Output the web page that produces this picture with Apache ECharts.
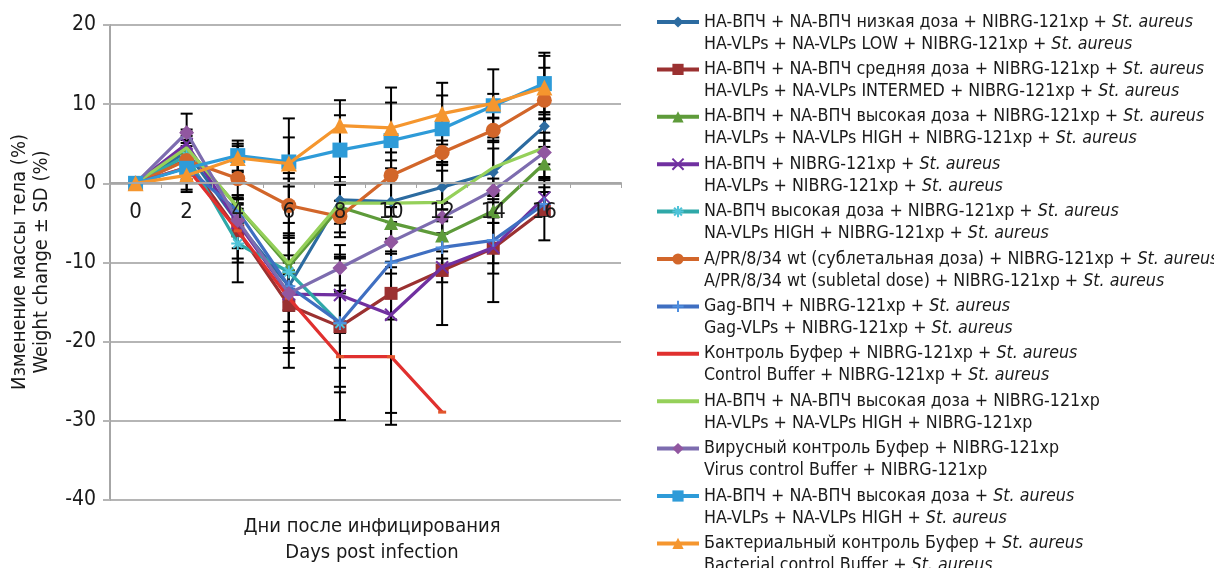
<!DOCTYPE html>
<html><head><meta charset="utf-8">
<script src="https://cdn.jsdelivr.net/npm/echarts@6/dist/echarts.min.js"></script>
<style>html,body{margin:0;padding:0;background:#fff}#c{width:1214px;height:568px}</style>
</head><body><div id="c"></div>
<script>
const FONT = "'DejaVu Sans Condensed','Liberation Sans Narrow',sans-serif";
const days = ['0','2','4','6','8','10','12','14','16',''];

const lowDose      = [0, 4.0, -5.0, -13.0, -2.1, -2.3, -0.5, 1.4, 7.2];
const lowDoseSD    = [0, 1.5, 1.5, 3.0, 2.0, 5.2, 2.8, 3.0, 1.8];
const medDose      = [0, 3.0, -6.0, -15.4, -18.1, -13.9, -11.0, -8.2, -3.3];
const medDoseSD    = [0, 3.8, 3.5, 7.9, 5.2, 3.3, 1.5, 3.2, 3.9];
const highDose     = [0, 4.5, -3.0, -10.5, -3.0, -5.0, -6.6, -3.5, 2.5];
const highDoseSD   = [0, 1.5, 1.5, 5.5, 3.8, 2.0, 2.0, 1.5, 2.1];
const haOnly       = [0, 5.0, -5.0, -14.0, -14.1, -16.6, -10.6, -8.1, -1.8];
const haOnlySD     = [0, 1.5, 3.2, 7.4, 4.8, 12.4, 7.3, 6.9, 1.3];
const naHigh       = [0, 3.5, -7.6, -11.2, -17.7];
const naHighSD     = [0, 1.2, 4.9, 4.9, 8.7];
const aprWt        = [0, 2.9, 0.6, -2.8, -4.2, 1.0, 3.9, 6.7, 10.5];
const aprWtSD      = [0, 1.0, 4.1, 4.1, 2.0, 4.0, 1.5, 1.5, 4.1];
const gag          = [0, 2.0, -3.5, -13.0, -17.6, -10.0, -8.1, -7.2, -2.6];
const gagSD        = [0, 3.1, 1.5, 2.0, 8.1, 1.4, 3.3, 2.9, 1.5];
const ctrlBuf      = [0, 2.0, -6.0, -14.5, -21.9, -21.9, -28.9];
const ctrlBufSD    = [0, 1.0, 4.0, 3.0, 8.0, 8.6, 0];
const hiNoBact     = [0, 4.5, -3.0, -10.1, -2.5, -2.5, -2.4, 2.0, 4.5];
const hiNoBactSD   = [0, 1.0, 1.5, 10.7, 2.6, 6.4, 4.0, 3.4, 3.7];
const virusCtrl    = [0, 6.4, -4.7, -13.9, -10.7, -7.4, -4.3, -0.9, 3.9];
const virusCtrlSD  = [0, 2.4, 1.5, 4.8, 2.9, 2.5, 2.0, 1.5, 1.5];
const hiBactOnly   = [0, 1.9, 3.5, 2.7, 4.2, 5.4, 6.9, 9.8, 12.6];
const hiBactOnlySD = [0, 0.8, 1.9, 3.1, 4.4, 4.8, 4.2, 1.5, 3.9];
const bactCtrl     = [0, 1.0, 3.2, 2.5, 7.3, 7.0, 8.8, 10.1, 12.1];
const bactCtrlSD   = [0, 0.5, 1.8, 5.7, 3.2, 5.1, 3.9, 4.3, 4.0];

const namesRu = [
  'HA-ВПЧ + NA-ВПЧ низкая доза + NIBRG-121xp + St. aureus',
  'HA-ВПЧ + NA-ВПЧ средняя доза + NIBRG-121xp + St. aureus',
  'HA-ВПЧ + NA-ВПЧ высокая доза + NIBRG-121xp + St. aureus',
  'HA-ВПЧ + NIBRG-121xp + St. aureus',
  'NA-ВПЧ высокая доза + NIBRG-121xp + St. aureus',
  'A/PR/8/34 wt (сублетальная доза) + NIBRG-121xp + St. aureus',
  'Gag-ВПЧ + NIBRG-121xp + St. aureus',
  'Контроль Буфер + NIBRG-121xp + St. aureus',
  'HA-ВПЧ + NA-ВПЧ высокая доза + NIBRG-121xp',
  'Вирусный контроль Буфер + NIBRG-121xp',
  'HA-ВПЧ + NA-ВПЧ высокая доза + St. aureus',
  'Бактериальный контроль Буфер + St. aureus'
];
const namesEn = [
  'HA-VLPs + NA-VLPs LOW + NIBRG-121xp + St. aureus',
  'HA-VLPs + NA-VLPs INTERMED + NIBRG-121xp + St. aureus',
  'HA-VLPs + NA-VLPs HIGH + NIBRG-121xp + St. aureus',
  'HA-VLPs + NIBRG-121xp + St. aureus',
  'NA-VLPs HIGH + NIBRG-121xp + St. aureus',
  'A/PR/8/34 wt (subletal dose) + NIBRG-121xp + St. aureus',
  'Gag-VLPs + NIBRG-121xp + St. aureus',
  'Control Buffer + NIBRG-121xp + St. aureus',
  'HA-VLPs + NA-VLPs HIGH + NIBRG-121xp',
  'Virus control Buffer + NIBRG-121xp',
  'HA-VLPs + NA-VLPs HIGH + St. aureus',
  'Bacterial control Buffer + St. aureus'
];

const X_PATH = 'path://M0,0L10,10M10,0L0,10';
const AST_PATH = 'path://M5,0L5,10M0,5L10,5M1.5,1.5L8.5,8.5M8.5,1.5L1.5,8.5';
const PLUS_PATH = 'path://M5,0L5,10M0,5L10,5';

const defs = [
  {v: lowDose, sd: lowDoseSD, color: '#2C6BA0', symbol: 'diamond', size: 11},
  {v: medDose, sd: medDoseSD, color: '#9B3131', symbol: 'rect', size: 13},
  {v: highDose, sd: highDoseSD, color: '#5E9B3A', symbol: 'triangle', size: 14},
  {v: haOnly, sd: haOnlySD, color: '#7030A0', symbol: X_PATH, size: 12, stroke: true},
  {v: naHigh, sd: naHighSD, color: '#2FA8A8', symbol: AST_PATH, size: 13, stroke: true, markColor: '#4FC3D8'},
  {v: aprWt, sd: aprWtSD, color: '#D2662A', symbol: 'circle', size: 15},
  {v: gag, sd: gagSD, color: '#3F6FC1', symbol: PLUS_PATH, size: 13, stroke: true, markColor: '#4F8FE0'},
  {v: ctrlBuf, sd: ctrlBufSD, color: '#E0302E', symbol: 'rect', size: [8, 3], markColor: '#E2562C', hideLegendMark: true},
  {v: hiNoBact, sd: hiNoBactSD, color: '#95D05A', symbol: 'none', size: 0, hideLegendMark: true},
  {v: virusCtrl, sd: virusCtrlSD, color: '#7D6CAF', symbol: 'diamond', size: 15, markColor: '#9157A0'},
  {v: hiBactOnly, sd: hiBactOnlySD, color: '#2E9BD8', symbol: 'rect', size: 15},
  {v: bactCtrl, sd: bactCtrlSD, color: '#F5962E', symbol: 'triangle', size: 16}
];

function rt(s) {
  const tag = 'St. aureus';
  return s.endsWith(tag) ? '{n|' + s.slice(0, -tag.length) + '}{i|' + tag + '}' : '{n|' + s + '}';
}

const errData = [];
defs.forEach(d => d.v.forEach((val, j) => {
  if (val != null && d.sd[j] > 0) errData.push([j, val - d.sd[j], val + d.sd[j]]);
}));

const series = [{
  type: 'custom', name: 'SD', z: 1, silent: true,
  encode: {x: 0, y: [1, 2]},
  data: errData,
  renderItem(params, api) {
    const x = api.value(0);
    const lo = api.coord([x, api.value(1)]);
    const hi = api.coord([x, api.value(2)]);
    const w = 6;
    const st = {stroke: '#000', lineWidth: 2};
    return {type: 'group', children: [
      {type: 'line', shape: {x1: lo[0], y1: lo[1], x2: hi[0], y2: hi[1]}, style: st},
      {type: 'line', shape: {x1: lo[0] - w, y1: lo[1], x2: lo[0] + w, y2: lo[1]}, style: st},
      {type: 'line', shape: {x1: hi[0] - w, y1: hi[1], x2: hi[0] + w, y2: hi[1]}, style: st}
    ]};
  }
}];

defs.forEach((d, k) => {
  const mc = d.markColor || d.color;
  series.push({
    type: 'line', name: namesRu[k], data: d.v, z: 3 + k,
    symbol: d.symbol, symbolSize: d.size, showSymbol: d.symbol !== 'none',
    lineStyle: {color: d.color, width: 3.2},
    itemStyle: d.stroke ? {color: mc, borderColor: mc, borderWidth: 2} : {color: mc},
    emphasis: {disabled: true}, animation: false
  });
});

const legendData = namesRu.map((n, k) => defs[k].hideLegendMark
  ? {name: n, itemStyle: {color: 'rgba(0,0,0,0)', borderWidth: 0, opacity: 0}}
  : n);

const chart = echarts.init(document.getElementById('c'));
chart.setOption({
  animation: false,
  grid: {left: 110, top: 25, right: 593, bottom: 68},
  xAxis: {
    type: 'category', data: days, boundaryGap: true,
    offset: -317, z: 30,
    axisLine: {onZero: false, lineStyle: {color: '#A6A6A6', width: 2}},
    axisTick: {show: true, length: 5, lineStyle: {color: '#A6A6A6', width: 1}},
    axisLabel: {fontFamily: FONT, fontSize: 22, color: '#1a1a1a', margin: 18},
    splitLine: {show: false}
  },
  yAxis: {
    type: 'value', min: -40, max: 20, interval: 10,
    axisLine: {show: true, lineStyle: {color: '#A6A6A6', width: 2}},
    axisTick: {show: true, length: 7, lineStyle: {color: '#B5B5B5', width: 2}},
    axisLabel: {fontFamily: FONT, fontSize: 21, color: '#1a1a1a', margin: 14},
    splitLine: {show: true, lineStyle: {color: '#B5B5B5', width: 2}}
  },
  legend: {
    data: legendData, orient: 'vertical', left: 655, top: -9, height: 900,
    padding: 0, itemGap: -14.6, itemWidth: 42, itemHeight: 14,
    selectedMode: false,
    lineStyle: {width: 4},
    formatter: name => {
      const k = namesRu.indexOf(name);
      return '{b| }\n' + rt(namesRu[k]) + '\n' + rt(namesEn[k]);
    },
    textStyle: {
      rich: {
        b: {fontFamily: FONT, fontSize: 17.7, lineHeight: 22, color: '#1a1a1a'},
        n: {fontFamily: FONT, fontSize: 17.7, lineHeight: 22, color: '#1a1a1a'},
        i: {fontFamily: FONT, fontSize: 17.7, lineHeight: 22, color: '#1a1a1a', fontStyle: 'italic'}
      }
    }
  },
  graphic: [
    {type: 'text', x: 372, y: 527, style: {text: 'Дни после инфицирования', font: '20px ' + FONT, fill: '#1a1a1a', align: 'center', verticalAlign: 'middle'}},
    {type: 'text', x: 372, y: 553, style: {text: 'Days post infection', font: '20px ' + FONT, fill: '#1a1a1a', align: 'center', verticalAlign: 'middle'}},
    {type: 'text', x: 20, y: 262, rotation: Math.PI / 2, style: {text: 'Изменение массы тела (%)', font: '20px ' + FONT, fill: '#1a1a1a', align: 'center', verticalAlign: 'middle'}},
    {type: 'text', x: 42, y: 262, rotation: Math.PI / 2, style: {text: 'Weight change ± SD (%)', font: '20px ' + FONT, fill: '#1a1a1a', align: 'center', verticalAlign: 'middle'}}
  ],
  series: series
});
</script>
</body></html>
